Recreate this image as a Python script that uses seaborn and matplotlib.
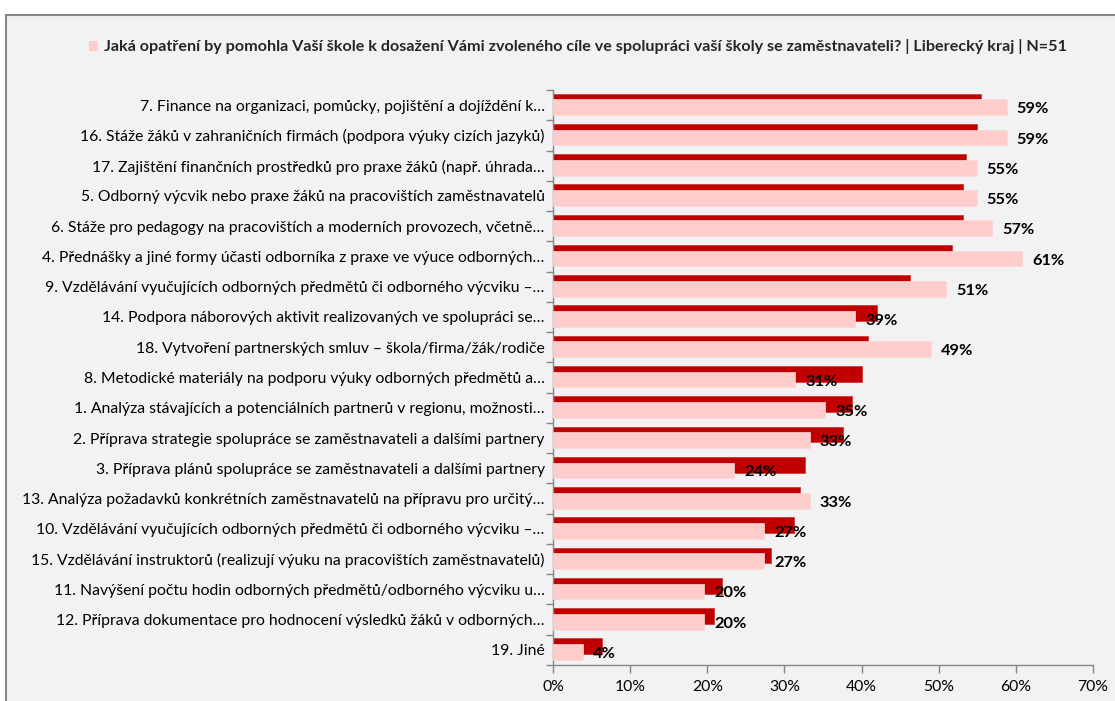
import numpy as np
import pandas as pd
import matplotlib
matplotlib.use("Agg")
import matplotlib.pyplot as plt
from matplotlib.patches import Rectangle, Patch
from matplotlib.ticker import FixedLocator, PercentFormatter
import seaborn as sns

categories = [
    "7. Finance na organizaci, pomůcky, pojištění a dojíždění k…",
    "16. Stáže žáků v zahraničních firmách (podpora výuky cizích jazyků)",
    "17. Zajištění finančních prostředků pro praxe žáků (např. úhrada…",
    "5. Odborný výcvik nebo praxe žáků na pracovištích zaměstnavatelů",
    "6. Stáže pro pedagogy na pracovištích a moderních provozech, včetně…",
    "4. Přednášky a jiné formy účasti odborníka z praxe ve výuce odborných…",
    "9. Vzdělávání vyučujících odborných předmětů či odborného výcviku –…",
    "14. Podpora náborových aktivit realizovaných ve spolupráci se…",
    "18. Vytvoření partnerských smluv – škola/firma/žák/rodiče",
    "8. Metodické materiály na podporu výuky odborných předmětů a…",
    "1. Analýza stávajících a potenciálních partnerů v regionu, možnosti…",
    "2. Příprava strategie spolupráce se zaměstnavateli a dalšími partnery",
    "3. Příprava plánů spolupráce se zaměstnavateli a dalšími partnery",
    "13. Analýza požadavků konkrétních zaměstnavatelů na přípravu pro určitý…",
    "10. Vzdělávání vyučujících odborných předmětů či odborného výcviku –…",
    "15. Vzdělávání instruktorů (realizují výuku na pracovištích zaměstnavatelů)",
    "11. Navýšení počtu hodin odborných předmětů/odborného výcviku u…",
    "12. Příprava dokumentace pro hodnocení výsledků žáků v odborných…",
    "19. Jiné",
]

# Liberecký kraj (pink, labelled)
region_values = [0.588, 0.588, 0.549, 0.549, 0.569, 0.608, 0.510, 0.392, 0.490,
                 0.314, 0.353, 0.333, 0.235, 0.333, 0.274, 0.274, 0.196, 0.196, 0.039]
# comparison series (dark red)
total_values = [0.555, 0.550, 0.536, 0.531, 0.531, 0.517, 0.463, 0.420, 0.408,
                0.400, 0.388, 0.376, 0.327, 0.320, 0.312, 0.282, 0.219, 0.209, 0.064]

legend_label = ("Jaká opatření by pomohla Vaší škole k dosažení Vámi zvoleného cíle ve "
                "spolupráci vaší školy se zaměstnavateli? | Liberecký kraj | N=51")
x_ticks = [0.0, 0.1, 0.2, 0.3, 0.4, 0.5, 0.6, 0.7]

sns.set_theme(style="white")
plt.rcParams["font.family"] = ["Lato", "DejaVu Sans"]

W, H = 1115, 701
fig = plt.figure(figsize=(W / 100, H / 100), dpi=100, facecolor="white")

# outer frame
fig.patches.append(Rectangle((6 / W, -0.05), 1.2, 1.05 - 15 / H, transform=fig.transFigure,
                             facecolor="#f2f2f2", edgecolor="#868686", linewidth=1.5, zorder=-5))

ax = fig.add_axes([553 / W, 1 - 665 / H, (1093 - 553) / W, (665 - 90) / H])
ax.set_zorder(2)
ax.patch.set_alpha(0)

pos = np.arange(len(categories))
df = pd.DataFrame({"cat": categories, "pos": pos, "region": region_values, "total": total_values})

bar_h = 0.52
sns.barplot(data=df.assign(p=df["pos"] - 0.12), x="total", y="p", orient="h", native_scale=True,
            width=bar_h, color="#C00000", saturation=1, edgecolor="#c83030", linewidth=0.5,
            ax=ax, zorder=2)
sns.barplot(data=df.assign(p=df["pos"] + 0.07), x="region", y="p", orient="h", native_scale=True,
            width=bar_h, color="#FFCCCC", saturation=1, edgecolor="#ffd8d8", linewidth=0.5,
            ax=ax, zorder=3)

# data labels for region series
for p, v in zip(pos, region_values):
    ax.annotate(f"{round(v * 100):.0f}%", xy=(v, p + 0.07), xytext=(10, -2),
                textcoords="offset pixels",
                ha="left", va="center", fontsize=11.8, fontweight="bold",
                color="black", zorder=5)

ax.set_xlim(0, 0.7)
ax.set_ylim(len(categories) - 0.5, -0.5)
ax.xaxis.set_major_locator(FixedLocator(x_ticks))
ax.xaxis.set_major_formatter(PercentFormatter(1.0, decimals=0))

ax.yaxis.set_major_locator(FixedLocator(np.arange(len(categories) + 1) - 0.5))
ax.yaxis.set_major_formatter(plt.NullFormatter())
ax.yaxis.set_minor_locator(FixedLocator(pos))
ax.set_yticklabels(categories, minor=True)

ax.tick_params(axis="y", which="major", length=5, width=1, color="#868686", direction="out", left=True)
ax.tick_params(axis="y", which="minor", length=0, pad=6, labelsize=11.3, labelcolor="#000000")
ax.tick_params(axis="x", which="major", length=6, width=1, color="#868686", direction="out",
               bottom=True, labelsize=11.3, labelcolor="#000000", pad=5)

for s in ["top", "right"]:
    ax.spines[s].set_visible(False)
for s in ["left", "bottom"]:
    ax.spines[s].set_color("#868686")
    ax.spines[s].set_linewidth(1)
ax.set_xlabel("")
ax.set_ylabel("")

handle = Patch(facecolor="#FFCCCC", edgecolor="none")
fig.legend([handle], [legend_label], loc="center", bbox_to_anchor=(578 / W, 1 - 47 / H),
           frameon=False, handlelength=0.55, handleheight=0.6, handletextpad=0.4,
           prop={"size": 11.6, "weight": "bold"})

fig.savefig("out.png", dpi=100, facecolor="white")
